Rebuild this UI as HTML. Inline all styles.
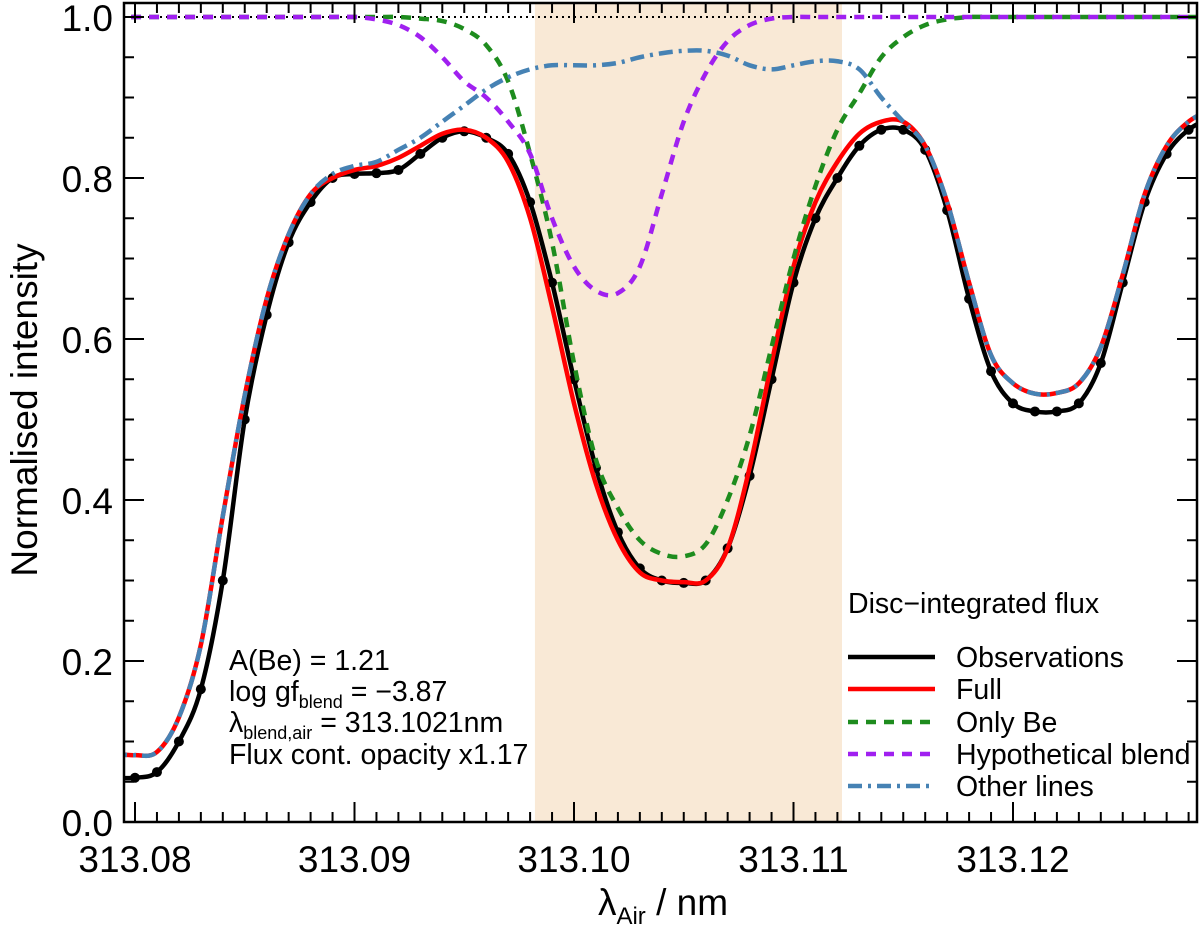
<!DOCTYPE html>
<html><head><meta charset="utf-8"><style>
body{margin:0;background:#fff}
svg text{font-family:"Liberation Sans",sans-serif}
</style></head><body>
<svg id="c" width="1200" height="924" xmlns="http://www.w3.org/2000/svg"></svg>
<script>
const wavelengths=[313.079,313.080,313.081,313.082,313.083,313.084,313.085,313.086,313.087,313.088,313.089,313.090,313.091,313.092,313.093,313.094,313.095,313.096,313.097,313.098,313.099,313.100,313.101,313.102,313.103,313.104,313.105,313.106,313.107,313.108,313.109,313.110,313.111,313.112,313.113,313.114,313.115,313.116,313.117,313.118,313.119,313.120,313.121,313.122,313.123,313.124,313.125,313.126,313.127,313.128,313.129];
const observations=[0.055,0.055,0.062,0.10,0.165,0.30,0.50,0.63,0.72,0.77,0.80,0.805,0.806,0.81,0.83,0.85,0.858,0.85,0.83,0.77,0.67,0.55,0.44,0.36,0.315,0.30,0.297,0.30,0.34,0.43,0.55,0.67,0.75,0.80,0.84,0.86,0.86,0.835,0.76,0.65,0.56,0.52,0.51,0.51,0.52,0.57,0.67,0.77,0.83,0.86,0.875];
const fullModel=[0.085,0.083,0.087,0.13,0.22,0.38,0.53,0.65,0.73,0.78,0.80,0.81,0.815,0.825,0.84,0.855,0.86,0.85,0.82,0.75,0.64,0.52,0.42,0.35,0.31,0.30,0.298,0.30,0.34,0.44,0.57,0.69,0.77,0.82,0.855,0.87,0.87,0.84,0.77,0.67,0.58,0.545,0.532,0.533,0.545,0.59,0.68,0.78,0.84,0.87,0.885];
const onlyBe=[1,1,1,1,1,1,1,1,1,1,1,1,1,1,0.998,0.995,0.985,0.965,0.92,0.83,0.72,0.57,0.45,0.39,0.35,0.333,0.33,0.345,0.40,0.48,0.59,0.70,0.79,0.86,0.905,0.95,0.975,0.99,0.997,1,1,1,1,1,1,1,1,1,1,1,1];
const hypBlend=[1,1,1,1,1,1,1,1,1,1,1,1,0.997,0.99,0.975,0.95,0.92,0.90,0.87,0.83,0.75,0.69,0.66,0.657,0.69,0.78,0.87,0.93,0.97,0.99,0.998,1,1,1,1,1,1,1,1,1,1,1,1,1,1,1,1,1,1,1,1];
const otherLines=[0.085,0.083,0.087,0.13,0.22,0.38,0.53,0.65,0.73,0.78,0.805,0.815,0.82,0.835,0.85,0.87,0.89,0.91,0.925,0.935,0.94,0.94,0.94,0.943,0.95,0.955,0.958,0.958,0.952,0.94,0.935,0.94,0.945,0.945,0.935,0.90,0.87,0.84,0.77,0.67,0.58,0.545,0.532,0.533,0.545,0.59,0.68,0.78,0.84,0.87,0.885];
const xTicks=[313.08,313.09,313.10,313.11,313.12];
const xTickLabels=["313.08","313.09","313.10","313.11","313.12"];
const yTicks=[0,0.2,0.4,0.6,0.8,1.0];
const yTickLabels=["0.0","0.2","0.4","0.6","0.8","1.0"];
const shadeRange=[313.09822,313.11221];

const L=124,R=1197,T=3,B=822;
const X=v=>135+(v-313.08)*21950;
const Y=v=>822-805*v;
const NS="http://www.w3.org/2000/svg";
const svg=document.getElementById('c');
function mk(t,a,p){const e=document.createElementNS(NS,t);for(const k in a)e.setAttribute(k,a[k]);(p||svg).appendChild(e);return e;}
const clip=mk('clipPath',{id:'pc'});mk('rect',{x:L,y:T,width:R-L,height:B-T},clip);
const shade=mk('rect',{x:X(shadeRange[0]),y:T,width:X(shadeRange[1])-X(shadeRange[0]),height:B-T,fill:'#f9e9d6'});


const g=mk('g',{'clip-path':'url(#pc)'});


mk('line',{x1:L,x2:R,y1:Y(1),y2:Y(1),stroke:'#000','stroke-width':2,'stroke-dasharray':'2,4'},g);
function smooth(vals){const p=vals.map((v,i)=>[X(wavelengths[i]),Y(v)]);let d='M'+p[0][0]+','+p[0][1];
for(let i=0;i<p.length-1;i++){const p0=p[i-1]||p[i],p1=p[i],p2=p[i+1],p3=p[i+2]||p2;
d+=` C${p1[0]+(p2[0]-p0[0])/6},${p1[1]+(p2[1]-p0[1])/6} ${p2[0]-(p3[0]-p1[0])/6},${p2[1]-(p3[1]-p1[1])/6} ${p2[0]},${p2[1]}`;}return d;}
function series(vals,color,dash,name){const e=mk('path',{d:smooth(vals),fill:'none',stroke:color,'stroke-width':4.5,'stroke-dasharray':dash||'none'},g);


return e;}
const obsPath=series(observations,'#000','','observations-line');
observations.forEach((v,i)=>{const c=mk('circle',{cx:X(wavelengths[i]),cy:Y(v),r:5,fill:'#000'},g);

});
series(fullModel,'#f00','','full-model-line');
series(onlyBe,'#1e8c1e','10,8','only-be-line');
series(hypBlend,'#a020f0','10,8','hypothetical-blend-line');
series(otherLines,'#4682b4','14,6,3,6','other-lines-line');
mk('rect',{x:L,y:T,width:R-L,height:B-T,fill:'none',stroke:'#000','stroke-width':2.5});
for(let v=313.079;v<=313.129;v+=0.001){const x=X(v);if(x<L||x>R)continue;const maj=Math.abs(Math.round(v*100)-v*100)<1e-6;const h=maj?20:10;
mk('line',{x1:x,x2:x,y1:B,y2:B-h,stroke:'#000','stroke-width':2});mk('line',{x1:x,x2:x,y1:T,y2:T+h,stroke:'#000','stroke-width':2});}
for(let k=0;k<=20;k++){const v=k*0.05;const y=Y(v);if(y<T)continue;const h=k%4==0?20:10;
mk('line',{x1:L,x2:L+h,y1:y,y2:y,stroke:'#000','stroke-width':2});mk('line',{x1:R,x2:R-h,y1:y,y2:y,stroke:'#000','stroke-width':2});}
xTicks.forEach((v,i)=>{const t=mk('text',{x:X(v),y:872,'font-size':37,'text-anchor':'middle'});t.textContent=xTickLabels[i];

});
yTicks.forEach((v,i)=>{const t=mk('text',{x:113,y:Math.max(Y(v)+14,30),'font-size':37,'text-anchor':'end'});t.textContent=yTickLabels[i];

});
</script>
<script>
(function(){const svg=document.getElementById('c');
svg.insertAdjacentHTML('beforeend',`
<text x="663" y="915" font-size="37" text-anchor="middle">λ<tspan font-size="24" dy="9">Air</tspan><tspan dy="-9"> / nm</tspan></text>
<text transform="translate(37,410) rotate(-90)" font-size="37" text-anchor="middle">Normalised intensity</text>
<g font-size="28.5">
<text x="229" y="670">A(Be) = 1.21</text>
<text x="229" y="701">log gf<tspan font-size="18" dy="7">blend</tspan><tspan dy="-7"> = −3.87</tspan></text>
<text x="229" y="732">λ<tspan font-size="18" dy="7">blend,air</tspan><tspan dy="-7"> = 313.1021nm</tspan></text>
<text x="229" y="764">Flux cont. opacity x1.17</text>
</g>
<g font-size="28.5">
<text x="848" y="613">Disc−integrated flux</text>
<line x1="848" x2="935" y1="657" y2="657" stroke="#000" stroke-width="4.5"/><text x="956" y="667">Observations</text>
<line x1="848" x2="935" y1="689" y2="689" stroke="#f00" stroke-width="4.5"/><text x="956" y="699">Full</text>
<line x1="848" x2="935" y1="722" y2="722" stroke="#1e8c1e" stroke-width="4.5" stroke-dasharray="10,8"/><text x="956" y="732">Only Be</text>
<line x1="848" x2="935" y1="754" y2="754" stroke="#a020f0" stroke-width="4.5" stroke-dasharray="10,8"/><text x="956" y="764">Hypothetical blend</text>
<line x1="848" x2="935" y1="786" y2="786" stroke="#4682b4" stroke-width="4.5" stroke-dasharray="14,6,3,6"/><text x="956" y="796">Other lines</text>
</g>`);})();
</script>
</body></html>
